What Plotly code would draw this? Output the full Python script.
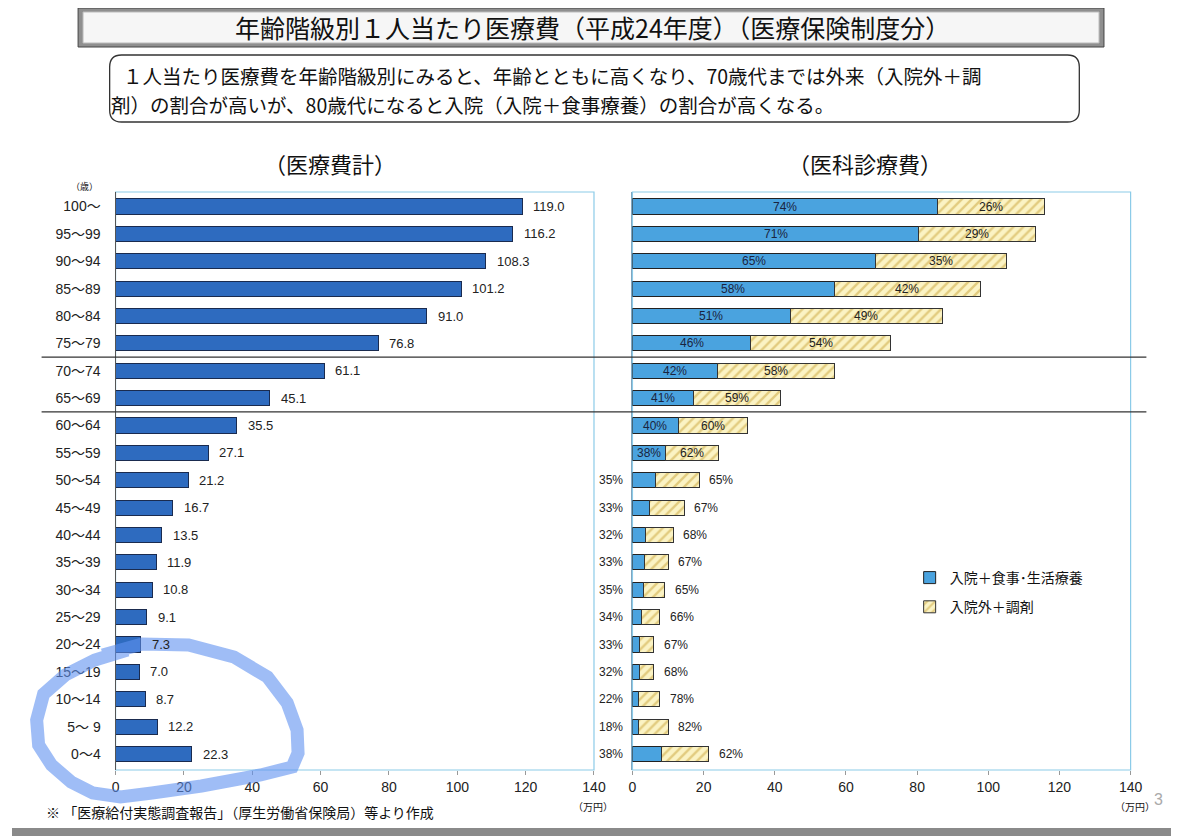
import plotly.graph_objects as go

W, H = 1179, 836
OFF = 8  # page body margin

# ---------------- data ----------------
ages = ["100～", "95～99", "90～94", "85～89", "80～84", "75～79", "70～74", "65～69",
        "60～64", "55～59", "50～54", "45～49", "40～44", "35～39", "30～34", "25～29",
        "20～24", "15～19", "10～14", "5～ 9", "0～4"]
total_cost = [119.0, 116.2, 108.3, 101.2, 91.0, 76.8, 61.1, 45.1, 35.5, 27.1, 21.2,
              16.7, 13.5, 11.9, 10.8, 9.1, 7.3, 7.0, 8.7, 12.2, 22.3]
medical_total = [115.8, 113.3, 105.2, 97.7, 87.1, 72.4, 56.8, 41.7, 32.3, 24.2, 18.7,
                 14.6, 11.5, 10.0, 9.1, 7.7, 6.0, 6.0, 7.6, 10.0, 21.5]
inpatient_pct = [74, 71, 65, 58, 51, 46, 42, 41, 40, 38, 35, 33, 32, 33, 35, 34, 33, 32, 22, 18, 38]
outpatient_pct = [26, 29, 35, 42, 49, 54, 58, 59, 60, 62, 65, 67, 68, 67, 65, 66, 67, 68, 78, 82, 62]
x_ticks = [0, 20, 40, 60, 80, 100, 120, 140]
legend_names = ["入院＋食事･生活療養", "入院外＋調剤"]

inpatient_val = [t * p / 100 for t, p in zip(medical_total, inpatient_pct)]
outpatient_val = [t * p / 100 for t, p in zip(medical_total, outpatient_pct)]

def px(x):
    return (x - OFF) / W

def py(y):
    return 1 - (y - OFF) / H

JP = "Noto Sans CJK JP"
LAT = "Liberation Sans, Arial, Noto Sans CJK JP"
cat_order = ages[::-1]

fig = go.Figure()

fig.add_trace(go.Bar(
    y=ages, x=total_cost, orientation="h", xaxis="x", yaxis="y",
    marker=dict(color="#2e6bbf", line=dict(color="#1a2b4f", width=1)),
    width=0.55, showlegend=False, hoverinfo="x+y"))

fig.add_trace(go.Bar(
    y=ages, x=inpatient_val, orientation="h", xaxis="x2", yaxis="y2",
    name=legend_names[0], legendgroup="a",
    marker=dict(color="#4aa3df", line=dict(color="#222222", width=1)),
    width=0.55))

fig.add_trace(go.Bar(
    y=ages, x=outpatient_val, orientation="h", xaxis="x2", yaxis="y2",
    name=legend_names[1], legendgroup="b",
    marker=dict(color="#fbf3c4", line=dict(color="#333333", width=1),
                pattern=dict(shape="/", fgcolor="#c9a43a", size=7, solidity=0.35)),
    width=0.55))

annotations = []
# left value labels
for a, v in zip(ages, total_cost):
    annotations.append(dict(x=v, y=a, xref="x", yref="y", text=f"{v:.1f}",
                            showarrow=False, xanchor="left", xshift=9,
                            font=dict(family=LAT, size=13, color="#222")))
# right percentage labels
inside_rows = set(ages[:10])
for a, t, ip, op, iv in zip(ages, medical_total, inpatient_pct, outpatient_pct, inpatient_val):
    if a in inside_rows:
        annotations.append(dict(x=iv / 2, y=a, xref="x2", yref="y2", text=f"{ip}%",
                                showarrow=False, font=dict(family=LAT, size=12, color="#1a2440")))
        annotations.append(dict(x=iv + (t - iv) / 2, y=a, xref="x2", yref="y2", text=f"{op}%",
                                showarrow=False, font=dict(family=LAT, size=12, color="#222")))
    else:
        annotations.append(dict(x=0, y=a, xref="x2", yref="y2", text=f"{ip}%",
                                showarrow=False, xanchor="right", xshift=-7,
                                font=dict(family=LAT, size=12, color="#222")))
        annotations.append(dict(x=t, y=a, xref="x2", yref="y2", text=f"{op}%",
                                showarrow=False, xanchor="left", xshift=8,
                                font=dict(family=LAT, size=12, color="#222")))

# text elements
def txt(x, y, s, size, family=JP, xanchor="center", color="#111", yanchor="middle", align="center"):
    annotations.append(dict(x=px(x), y=py(y), xref="paper", yref="paper", text=s,
                            showarrow=False, xanchor=xanchor, yanchor=yanchor, align=align,
                            font=dict(family=family, size=size, color=color)))

txt(596, 27, "年齢階級別１人当たり医療費（平成24年度）（医療保険制度分）", 25)
txt(118, 75, "１人当たり医療費を年齢階級別にみると、年齢とともに高くなり、70歳代までは外来（入院外＋調",
    19.5, xanchor="left")
txt(106, 104, "剤）の割合が高いが、80歳代になると入院（入院＋食事療養）の割合が高くなる。",
    19.5, xanchor="left")
txt(330, 163, "（医療費計）", 22)
txt(873, 163, "（医科診療費）", 22)
txt(82, 186, "（歳）", 9)
txt(40, 812, "※ 「医療給付実態調査報告」（厚生労働省保険局）等より作成", 14, xanchor="left")
txt(597, 806, "（万円）", 10)
txt(1146, 806, "（万円）", 10)
txt(1170, 799, "3", 16, family=LAT, color="#aaaaaa")

shapes = []
# title box
shapes.append(dict(type="rect", xref="paper", yref="paper", x0=px(75), x1=px(1115), y0=py(47), y1=py(8),
                   fillcolor="#8f8f8f", line=dict(color="#444", width=1), layer="below"))
shapes.append(dict(type="rect", xref="paper", yref="paper", x0=px(80), x1=px(1110), y0=py(43), y1=py(12),
                   fillcolor="#f6f6f6", line=dict(color="#bbbbbb", width=1), layer="below"))
# subtitle rounded box
x0, x1, y0, y1, r = 107, 1090, 55, 122, 12
path = (f"M {px(x0 + r)} {py(y0)} L {px(x1 - r)} {py(y0)} Q {px(x1)} {py(y0)} {px(x1)} {py(y0 + r)} "
        f"L {px(x1)} {py(y1 - r)} Q {px(x1)} {py(y1)} {px(x1 - r)} {py(y1)} "
        f"L {px(x0 + r)} {py(y1)} Q {px(x0)} {py(y1)} {px(x0)} {py(y1 - r)} "
        f"L {px(x0)} {py(y0 + r)} Q {px(x0)} {py(y0)} {px(x0 + r)} {py(y0)} Z")
shapes.append(dict(type="path", xref="paper", yref="paper", path=path,
                   line=dict(color="#333", width=1.3), layer="below"))
# panel frames
for xr in ["x", "x2"]:
    shapes.append(dict(type="rect", xref=f"{xr} domain", yref="y domain", x0=0, x1=1, y0=0, y1=1,
                       line=dict(color="#8ccbe8", width=1.2), layer="below"))
# separator lines between age groups
for yv in [12.5, 14.5]:
    shapes.append(dict(type="line", xref="paper", yref="y", x0=px(38), x1=px(1158), y0=yv, y1=yv,
                       line=dict(color="#333", width=1.2), layer="above"))
# bottom bar
shapes.append(dict(type="rect", xref="paper", yref="paper", x0=0, x1=1, y0=py(836), y1=py(828),
                   fillcolor="#8a8a8a", line=dict(width=0), layer="below"))
# hand-drawn highlight
pts = [(100, 655), (140, 644), (187, 645), (233, 657), (267, 677), (287, 703), (297, 730),
       (298, 753), (292, 767), (260, 775), (200, 786), (150, 793), (118, 797), (90, 793),
       (68, 782), (48, 765), (35, 745), (33, 720), (40, 694), (62, 675), (92, 660), (125, 650)]
p = "M " + " L ".join(f"{px(a)} {py(b)}" for a, b in pts)
shapes.append(dict(type="path", xref="paper", yref="paper", path=p,
                   line=dict(color="rgba(95,145,240,0.6)", width=13), layer="above"))

yrange = [-0.584, 20.53]
tickfont = dict(family=LAT, size=14, color="#222")
fig.update_layout(
    width=W, height=H, autosize=False,
    margin=dict(l=0, r=0, t=0, b=0),
    paper_bgcolor="white", plot_bgcolor="white",
    barmode="stack", bargap=0.45,
    xaxis=dict(domain=[px(113), px(598)], range=[0, 140], tickvals=x_ticks,
               showgrid=False, zeroline=False, showline=False,
               ticks="outside", ticklen=4, tickcolor="#999", tickfont=tickfont, anchor="y"),
    yaxis=dict(domain=[py(770), py(192)], type="category", categoryorder="array",
               categoryarray=cat_order, range=yrange, showgrid=False,
               showline=True, linecolor="#555", linewidth=1.2, ticks="",
               ticklabelstandoff=11, tickfont=tickfont, anchor="x"),
    xaxis2=dict(domain=[px(637), px(1142)], range=[0, 140], tickvals=x_ticks,
                showgrid=False, zeroline=False, showline=False,
                ticks="outside", ticklen=4, tickcolor="#999", tickfont=tickfont, anchor="y2"),
    yaxis2=dict(domain=[py(770), py(192)], type="category", categoryorder="array",
                categoryarray=cat_order, range=yrange, showgrid=False,
                showline=True, linecolor="#7fa6c0", linewidth=1.2, ticks="",
                showticklabels=False, anchor="x2"),
    legend=dict(x=px(918), y=py(562), xanchor="left", yanchor="top",
                font=dict(family=JP, size=14, color="#111"), tracegroupgap=8,
                bgcolor="rgba(0,0,0,0)", itemwidth=30),
    annotations=annotations, shapes=shapes,
)

fig.write_html("out.html")
